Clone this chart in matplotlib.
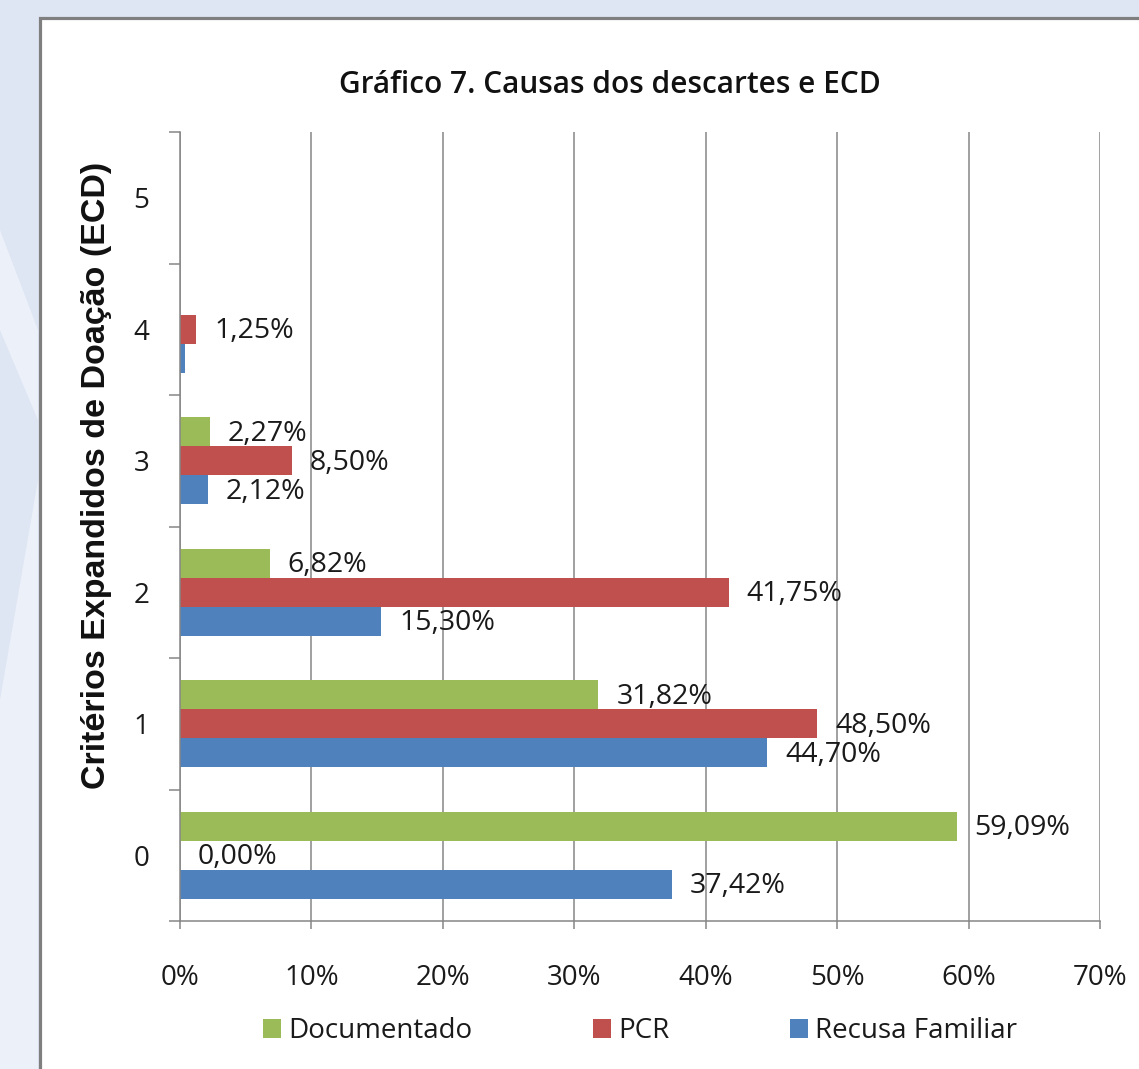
import numpy as np
import matplotlib
matplotlib.use("Agg")
import matplotlib.pyplot as plt
from matplotlib.patches import Rectangle, Polygon
from matplotlib.ticker import FixedLocator

# ---------------- data ----------------
categories = [0, 1, 2, 3, 4, 5]
documentado = [59.09, 31.82, 6.82, 2.27, np.nan, np.nan]
pcr = [0.00, 48.50, 41.75, 8.50, 1.25, np.nan]
recusa = [37.42, 44.70, 15.30, 2.12, 0.40, np.nan]
show_doc = [True, True, True, True, False, False]
show_pcr = [True, True, True, True, True, False]
show_rec = [True, True, True, True, False, False]
x_ticks = [0, 10, 20, 30, 40, 50, 60, 70]
x_ticklabels = ["0%", "10%", "20%", "30%", "40%", "50%", "60%", "70%"]
series_names = ["Documentado", "PCR", "Recusa Familiar"]
title = "Gráfico 7. Causas dos descartes e ECD"
ylabel = "Critérios Expandidos de Doação (ECD)"

colors = ["#9bbb59", "#c0504d", "#4f81bd"]
W, H = 1139, 1069
FONT = "Open Sans"
FS = 20

fig = plt.figure(figsize=(W / 100, H / 100), dpi=100, facecolor="#dfe6f3")

# background swoosh (lighter area in the left strip)
fig.patches.append(Polygon([(0, 1 - 230 / H), (38 / W, 1 - 330 / H), (38 / W, 1 - 420 / H), (0, 1 - 330 / H)],
                           closed=True, transform=fig.transFigure, facecolor="#ecf0f9",
                           edgecolor="none", zorder=-3))
fig.patches.append(Polygon([(0, 1 - 700 / H), (38 / W, 1 - 480 / H), (38 / W, 0), (0, 0)],
                           closed=True, transform=fig.transFigure, facecolor="#ecf0f9",
                           edgecolor="none", zorder=-3))

# white panel with gray border
fig.patches.append(Rectangle((39.5 / W, -0.1), 1.2, (1 - 17.5 / H) + 0.1, transform=fig.transFigure,
                             facecolor="white", edgecolor="#7f7f7f", linewidth=2.3, zorder=-1))

ax = fig.add_axes([180 / W, 1 - 921 / H, (1100 - 180) / W, (921 - 132) / H])
ax.set_facecolor("none")

y = np.array(categories, dtype=float)
bh = 0.22
offsets = [bh, 0.0, -bh]
all_series = [documentado, pcr, recusa]
all_show = [show_doc, show_pcr, show_rec]

bars = []
for vals, off, col, name in zip(all_series, offsets, colors, series_names):
    b = ax.barh(y + off, vals, height=bh, color=col, label=name, zorder=3)
    bars.append(b)

for vals, off, show in zip(all_series, offsets, all_show):
    for yi, v, s in zip(y, vals, show):
        if s and not np.isnan(v):
            txt = f"{v:.2f}%".replace(".", ",")
            ax.annotate(txt, (v, yi + off), xytext=(18, -2), textcoords="offset pixels",
                        ha="left", va="center", fontsize=20.5, family=FONT, color="#1a1a1a", zorder=4)

ax.set_xlim(0, 70)
ax.set_ylim(-0.5, 5.5)
ax.set_xticks(x_ticks)
ax.set_xticklabels(x_ticklabels, fontsize=FS, family=FONT, color="#1a1a1a")
ax.set_yticks(categories)
ax.set_yticklabels([str(c) for c in categories], fontsize=FS, family=FONT, color="#1a1a1a")
ax.yaxis.set_minor_locator(FixedLocator(np.arange(-0.5, 6.0, 1.0)))

ax.tick_params(axis="y", which="major", length=0, pad=22)
ax.tick_params(axis="y", which="minor", length=8, width=1.1, color="#868686", direction="out")
ax.tick_params(axis="x", which="major", length=6, width=1.1, color="#868686", direction="out", pad=25)

ax.grid(axis="x", color="#868686", linewidth=1.1, zorder=0)
ax.set_axisbelow(True)
for side in ["top", "right"]:
    ax.spines[side].set_visible(False)
for side in ["left", "bottom"]:
    ax.spines[side].set_color("#868686")
    ax.spines[side].set_linewidth(1.1)
    ax.spines[side].set_zorder(5)

fig.text(610 / W, 1 - 85 / H, title, ha="center", va="center", fontsize=21.5,
         family=FONT, fontweight="semibold", color="#111111")
fig.text(97 / W, 1 - 475 / H, ylabel, ha="center", va="center", rotation=90, fontsize=24.5,
         family="Liberation Sans", fontweight="bold", color="#111111")

# legend: one entry per legend, placed at the reference positions
legend_x = [263, 593, 790]
for b, name, lx in zip(bars, series_names, legend_x):
    leg = fig.legend([b], [name], loc="center left", bbox_to_anchor=(lx / W, 1 - 1031 / H),
                     frameon=False, prop={"family": FONT, "size": FS}, handlelength=0.65,
                     handleheight=0.65, handletextpad=0.25, borderpad=0, borderaxespad=0)
    for t in leg.get_texts():
        t.set_color("#1a1a1a")

fig.savefig("out.png", dpi=100, facecolor=fig.get_facecolor())
